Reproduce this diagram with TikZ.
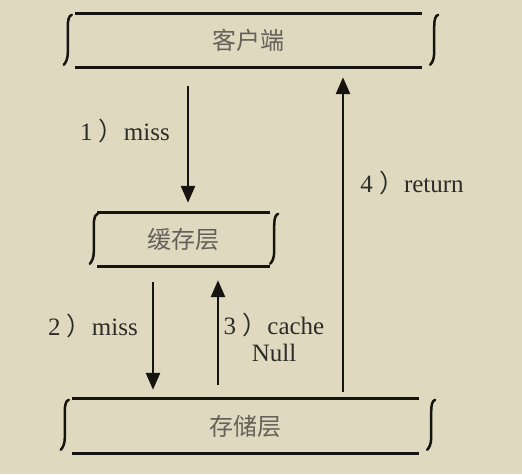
\documentclass[tikz,border=0pt]{standalone}
\usepackage{fontspec}
\setmainfont{Liberation Serif}
\newfontfamily\cjk{Noto Sans CJK SC}
\usepackage{tikz}
\usetikzlibrary{arrows.meta}
\definecolor{paper}{RGB}{223,217,192}
\definecolor{ink}{RGB}{22,20,16}
\definecolor{pencil}{RGB}{100,97,90}
% top and bottom rules of a layer, with a hand drawn brace on each side
\newcommand{\layer}[3]{%
  \draw[rule] (#1.north west) -- (#1.north east);
  \draw[rule] (#1.south west) -- (#1.south east);
  \draw[brace] ([shift={(-#2,1)}]#1.north west) .. controls +(-3,1) and +(0,-7) .. ++(-4,12)
    -- ++(0,26) .. controls +(0,6) and +(2,-2) .. ++(-4,12);
  \draw[brace] ([shift={(#3,1)}]#1.north east) .. controls +(-3,1) and +(0,-7) .. ++(-4,12)
    -- ++(0,26) .. controls +(0,6) and +(2,-2) .. ++(-4,12);
}

\begin{document}
\begin{tikzpicture}[x=1pt,y=-1pt]
\tikzstyle{every node}+=[inner sep=0pt]
\tikzstyle{layerbox}=[minimum height=53pt, text=pencil, font=\cjk\fontsize{24}{24}\selectfont]
\tikzstyle{rule}=[ink, line width=2.8pt]
\tikzstyle{brace}=[ink, line width=2.5pt, line cap=round]
\tikzstyle{flow}=[ink, line width=2.6pt, -{Triangle[length=17pt,width=14pt]}]
\tikzstyle{steplabel}=[text=ink!90, font=\fontsize{25}{27}\selectfont, align=center]
\fill[paper] (0,0) rectangle (522,474);
% layers
\node[layerbox, minimum width=347pt] (client) at (248.5,40.5) {客户端};
\node[layerbox, minimum width=173pt] (cache) at (183.5,239.5) {缓存层};
\node[layerbox, minimum width=347pt, minimum height=54pt] (store) at (245.5,426) {存储层};
\layer{client}{3}{16}
\layer{cache}{-1}{8}
\layer{store}{3}{16}
% arrow columns
\coordinate (xa) at (188,0);
\coordinate (xb) at (153,0);
\coordinate (xc) at (218,0);
\coordinate (xd) at (343,0);
\draw[flow, shorten <=19pt, shorten >=10pt] (client.south -| xa) -- (cache.north -| xa);
\draw[flow, shorten <=16pt, shorten >=9pt] (cache.south -| xb) -- (store.north -| xb);
\draw[flow, shorten <=14pt, shorten >=14pt] (store.north -| xc) -- (cache.south -| xc);
\draw[flow, shorten <=7pt, shorten >=10pt] (store.north -| xd) -- (client.south -| xd);
% labels
\node[steplabel] (miss1) at (125,131) {1 {\cjk ）}miss};
\node[steplabel] (miss2) at (93,326) {2 {\cjk ）}miss};
\node[steplabel] (null3) at (274,337) {3 {\cjk ）}cache\\Null};
\node[steplabel] (ret4) at (412,183) {4 {\cjk ）}return};
\end{tikzpicture}
\end{document}
